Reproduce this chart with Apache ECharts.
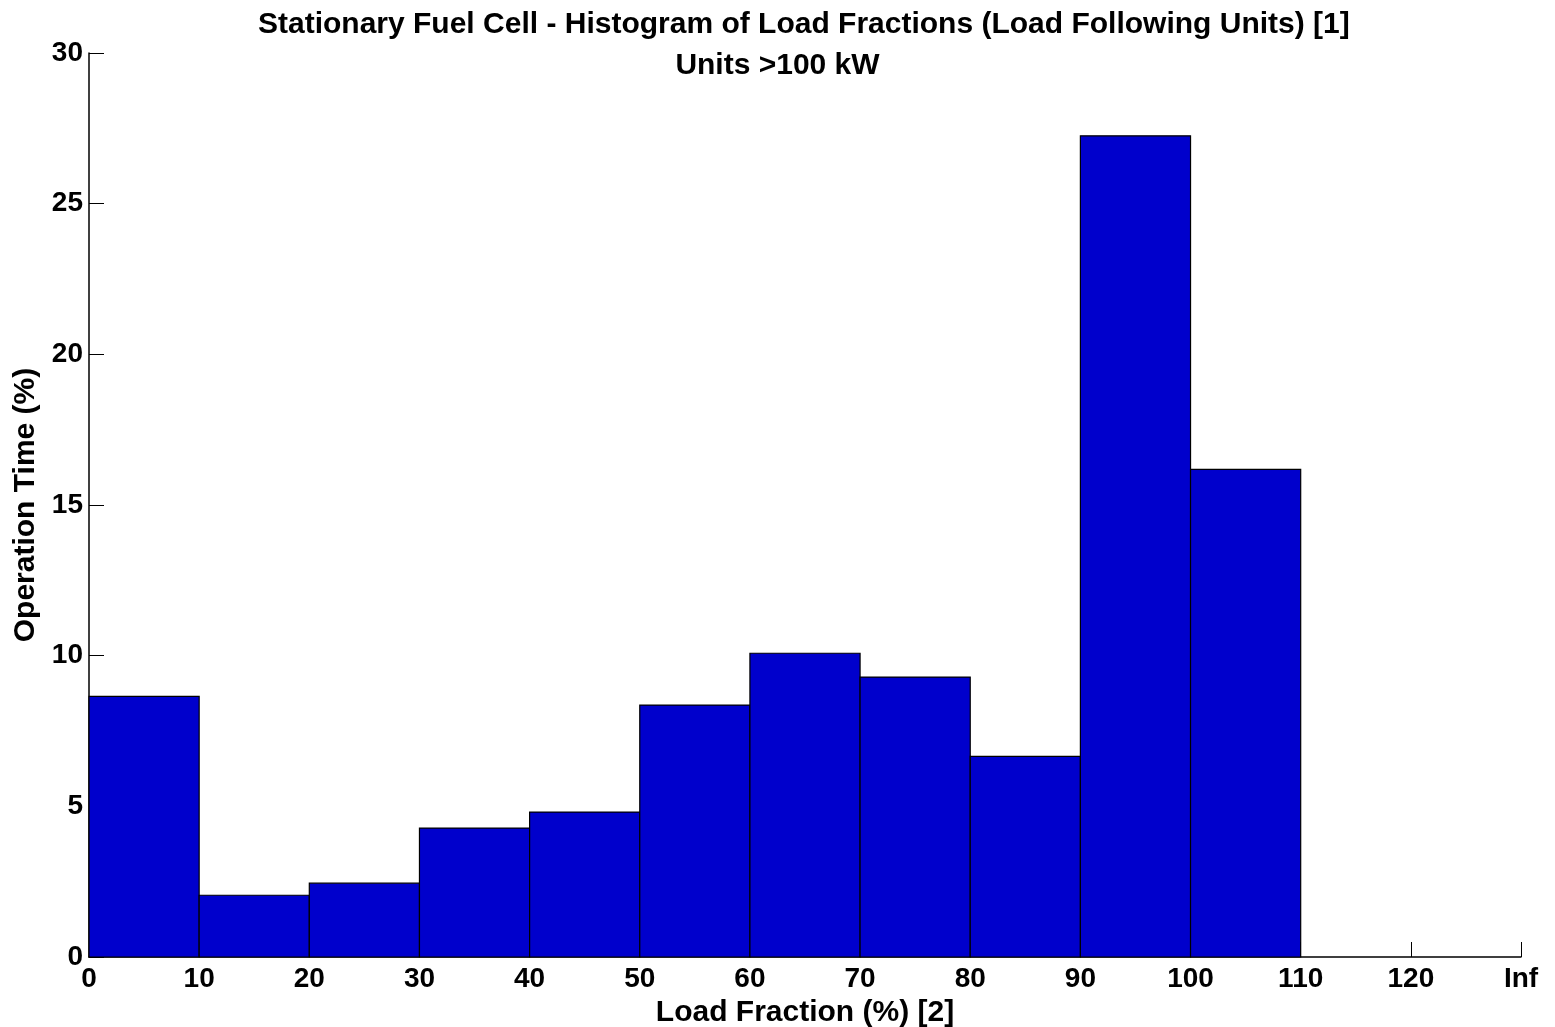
<!DOCTYPE html>
<html>
<head>
<meta charset="utf-8">
<script src="https://cdn.jsdelivr.net/npm/echarts@6/dist/echarts.min.js"></script>
<style>
html,body{margin:0;padding:0;background:#fff;}
#chart{width:1555px;height:1027px;}
</style>
</head>
<body>
<div id="chart"></div>
<script>
const binStarts = [0, 10, 20, 30, 40, 50, 60, 70, 80, 90, 100, 110, 120];
const binEnds   = [10, 20, 30, 40, 50, 60, 70, 80, 90, 100, 110, 120, 130];
const operationTime = [8.65, 2.05, 2.45, 4.28, 4.81, 8.36, 10.08, 9.29, 6.66, 27.25, 16.18, 0, 0];
const xTickValues = [0, 10, 20, 30, 40, 50, 60, 70, 80, 90, 100, 110, 120, 130];
const xTickLabels = ['0', '10', '20', '30', '40', '50', '60', '70', '80', '90', '100', '110', '120', 'Inf'];
const yTickLabels = ['0', '5', '10', '15', '20', '25', '30'];

const data = binStarts.map((s, i) => [s, binEnds[i], operationTime[i]]);
const font = 'Liberation Sans, Arial, sans-serif';

const chart = echarts.init(document.getElementById('chart'), null, {renderer: 'canvas'});
chart.setOption({
  backgroundColor: '#fff',
  animation: false,
  title: [
    {text: 'Stationary Fuel Cell - Histogram of Load Fractions (Load Following Units) [1]', left: 253, top: 5,
     textStyle: {fontFamily: font, fontWeight: 'bold', fontSize: 30, color: '#000'}},
    {text: 'Units >100 kW', left: 'center', top: 46,
     textStyle: {fontFamily: font, fontWeight: 'bold', fontSize: 30, color: '#000'}}
  ],
  grid: {left: 89, right: 34, top: 53, bottom: 70, containLabel: false, outerBoundsMode: 'none'},
  xAxis: {
    type: 'value', min: 0, max: 130, interval: 10,
    name: 'Load Fraction (%) [2]', nameLocation: 'middle', nameGap: 39,
    nameTextStyle: {fontFamily: font, fontWeight: 'bold', fontSize: 30, color: '#000'},
    axisLine: {show: true, lineStyle: {color: '#000', width: 1.5}},
    axisTick: {show: true, inside: true, length: 15, lineStyle: {color: '#000', width: 1}},
    axisLabel: {fontFamily: font, fontWeight: 'bold', fontSize: 28, color: '#000', margin: 8,
      formatter: v => { const i = xTickValues.indexOf(v); return i >= 0 ? xTickLabels[i] : ''; }},
    splitLine: {show: false}
  },
  yAxis: {
    type: 'value', min: 0, max: 30, interval: 5,
    name: 'Operation Time (%)', nameLocation: 'middle', nameGap: 47, nameRotate: 90,
    nameTextStyle: {fontFamily: font, fontWeight: 'bold', fontSize: 30, color: '#000'},
    axisLine: {show: true, lineStyle: {color: '#000', width: 1.5}},
    axisTick: {show: true, inside: true, length: 15, lineStyle: {color: '#000', width: 1}},
    axisLabel: {fontFamily: font, fontWeight: 'bold', fontSize: 28, color: '#000', margin: 6,
      formatter: v => yTickLabels[Math.round(v / 5)] || ''},
    splitLine: {show: false}
  },
  series: [{
    type: 'custom',
    data: data,
    encode: {x: [0, 1], y: 2},
    renderItem: function (params, api) {
      const p0 = api.coord([api.value(0), api.value(2)]);
      const p1 = api.coord([api.value(1), 0]);
      if (api.value(2) <= 0) return null;
      return {
        type: 'rect',
        shape: {x: p0[0], y: p0[1], width: p1[0] - p0[0], height: p1[1] - p0[1]},
        style: {fill: '#0000CC', stroke: '#000', lineWidth: 1.2}
      };
    }
  }]
});
</script>
</body>
</html>
